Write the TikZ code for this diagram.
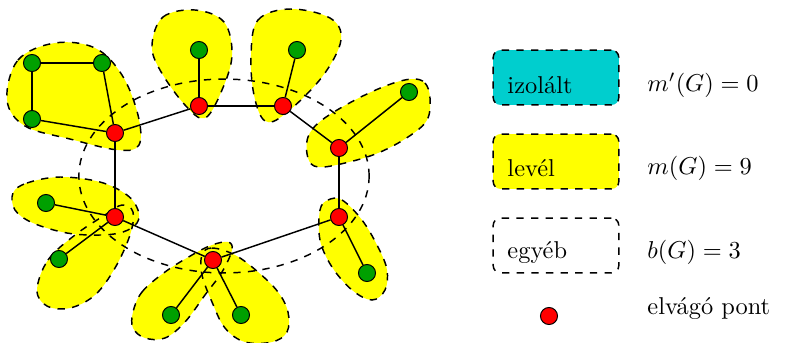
\documentclass[tikz,border=0pt]{standalone}
\usetikzlibrary{shapes.geometric}
\definecolor{gnode}{RGB}{0,160,0}
\definecolor{iso}{RGB}{0,206,206}
\definecolor{yel}{RGB}{255,255,0}
\begin{document}
\begin{tikzpicture}[x=0.41pt,y=-0.41pt,
  blobfill/.style={fill=yel,draw=none},
  blobline/.style={draw=black,semithick,dashed},
  gv/.style={circle,draw=black,fill=gnode,minimum size=7pt,inner sep=0pt},
  rv/.style={circle,draw=black,fill=red,minimum size=7pt,inner sep=0pt},
  edge/.style={draw=black,semithick},
  legbox/.style={draw=black,semithick,dashed,rounded corners=3pt,minimum width=51.5pt,minimum height=22.5pt},
  lab/.style={anchor=west,inner sep=0pt}]
\useasboundingbox (0,0) rectangle (785,342);
% blob outlines
\def\blobA{(7,100) (18,60) (55,43) (95,48) (122,75) (138,115) (139,145) (118,150) (70,139) (25,126)}
\def\blobB{(152,45) (163,17) (195,10) (224,22) (232,55) (222,90) (205,118) (185,105) (160,70)}
\def\blobC{(251,55) (258,20) (290,9) (330,18) (341,40) (322,77) (285,114) (265,121) (254,95)}
\def\blobD{(412,79) (425,83) (430,98) (427,120) (408,137) (378,153) (345,163) (318,167) (308,158) (308,137) (322,120) (355,100) (388,85)}
\def\blobE{(320,210) (328,200) (342,200) (362,220) (378,247) (387,270) (385,290) (372,300) (352,290) (332,267) (320,240)}
\def\blobF{(133,312) (142,292) (165,272) (192,255) (212,245) (228,242) (232,250) (222,272) (205,295) (185,322) (165,338) (145,338) (133,328)}
\def\blobG{(202,255) (212,248) (235,255) (258,272) (278,292) (288,312) (287,332) (272,342) (245,342) (225,328) (212,302) (202,275)}
\def\blobH{(13,193) (27,183) (60,177) (100,182) (127,195) (138,210) (137,223) (123,232) (100,235) (67,233) (33,223) (15,210)}
\def\blobI{(37,290) (48,260) (75,235) (105,215) (122,205) (133,212) (130,235) (115,268) (95,295) (70,308) (47,306)}
\foreach \b in {\blobA,\blobB,\blobC,\blobD,\blobE,\blobF,\blobG,\blobH,\blobI}
  \path[blobfill] plot[smooth cycle,tension=0.6] coordinates {\b};
\foreach \b in {\blobA,\blobB,\blobC,\blobD,\blobE,\blobF,\blobG,\blobH,\blobI}
  \path[blobline] plot[smooth cycle,tension=0.6] coordinates {\b};
% dashed big ellipse
\node[ellipse,draw=black,semithick,dashed,minimum width=119pt,minimum height=79.5pt,inner sep=0pt] (core) at (224,176) {};
% vertices
\node[rv] (r1) at (115,133) {};
\node[rv] (r2) at (199,106) {};
\node[rv] (r3) at (283,106) {};
\node[rv] (r4) at (339,148) {};
\node[rv] (r5) at (339,217) {};
\node[rv] (r6) at (213,260) {};
\node[rv] (r7) at (115,217) {};
\node[gv] (g1) at (32,63) {};
\node[gv] (g2) at (102,63) {};
\node[gv] (g3) at (32,119) {};
\node[gv] (g4) at (199,50) {};
\node[gv] (g5) at (297,50) {};
\node[gv] (g6) at (409,92) {};
\node[gv] (g7) at (367,273) {};
\node[gv] (g8) at (241,315) {};
\node[gv] (g9) at (171,315) {};
\node[gv] (g10) at (59,259) {};
\node[gv] (g11) at (46,203) {};
% edges
\foreach \a/\c in {g1/g2,g1/g3,g2/r1,g3/r1,r1/r2,r2/g4,r2/r3,r3/g5,r3/r4,r4/g6,r4/r5,r5/g7,r5/r6,r6/g8,r6/g9,r6/r7,r7/g10,r7/g11,r7/r1}
  \draw[edge] (\a) -- (\c);
% legend
\node[legbox,fill=iso] (bi) at (556,77.5) {};
\node[legbox,fill=yel] (bl) at (556,161.5) {};
\node[legbox] (be) at (556,245.5) {};
\node[lab] (ti) at (507,85) {izolált};
\node[lab] (tl) at (507,168) {levél};
\node[lab] (te) at (507,252) {egyéb};
\node[rv] (rl) at (549,316) {};
\node[lab] (mi) at (647,85) {$m'(G)=0$};
\node[lab] (ml) at (647,168) {$m(G)=9$};
\node[lab] (me) at (647,252) {$b(G)=3$};
\node[lab] (mr) at (647,308) {elvágó pont};
\end{tikzpicture}
\end{document}
